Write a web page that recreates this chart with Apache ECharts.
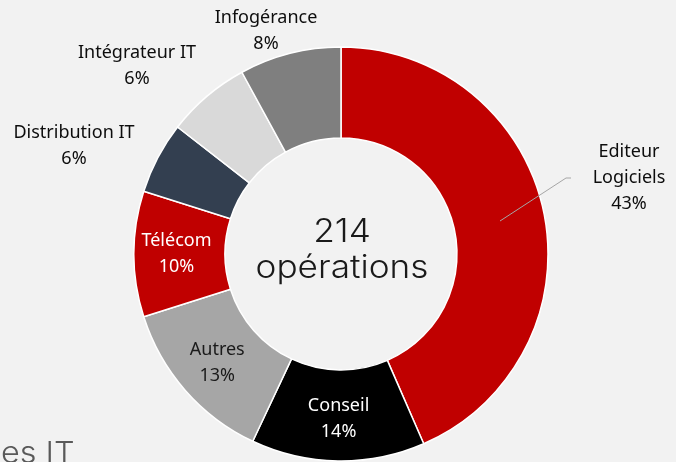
<!DOCTYPE html>
<html>
<head>
<meta charset="utf-8">
<script src="https://cdn.jsdelivr.net/npm/echarts@6/dist/echarts.min.js"></script>
<style>
  html, body { margin: 0; padding: 0; background: #f2f2f2; }
  #donut { width: 676px; height: 462px; }
</style>
</head>
<body>
<div id="donut"></div>
<script>
// secteurs, nombre d'opérations et part affichée
const sectors = ['Editeur\nLogiciels', 'Conseil', 'Autres', 'Télécom', 'Distribution IT', 'Intégrateur IT', 'Infogérance'];
const deals = [93, 29, 28, 21, 12, 14, 17];
const shares = [43, 14, 13, 10, 6, 6, 8];
const sliceColors = ['#c00000', '#000000', '#a6a6a6', '#c00000', '#333f50', '#d9d9d9', '#7f7f7f'];
const insideColors = ['#000', '#ffffff', '#1a1a1a', '#ffffff', '#000', '#000', '#000'];
const total = 214;

// where the outside labels sit (null = inside the ring)
const labelSpots = [[629, 178], null, null, null, [74, 146], [137, 66], [266, 31]];

const chart = echarts.init(document.getElementById('donut'));

const pieData = sectors.map((name, i) => {
  const outside = labelSpots[i] !== null;
  return {
    name: name,
    value: deals[i],
    itemStyle: { color: sliceColors[i] },
    label: {
      position: outside ? 'outside' : 'inside',
      color: outside ? '#0d0d0d' : insideColors[i]
    },
    labelLine: { show: false }
  };
});

const centerText = (txt, y) => ({
  type: 'text',
  x: 342,
  y: y,
  scaleX: 1.1,
  style: {
    text: txt,
    fontFamily: 'Inter',
    fontWeight: 300,
    fontSize: 32,
    fill: '#1a1a1a',
    align: 'center',
    verticalAlign: 'middle'
  }
});

chart.setOption({
  backgroundColor: '#f2f2f2',
  animation: false,
  graphic: [
    centerText(total + '', 232),
    centerText('opérations', 268),
    {
      type: 'text',
      x: 1,
      y: 469,
      scaleX: 1.08,
      style: {
        text: 'es IT',
        fontFamily: 'Inter',
        fontWeight: 300,
        fontSize: 30,
        fill: '#595959',
        align: 'left',
        verticalAlign: 'bottom'
      }
    },
    {
      // leader line of "Editeur Logiciels", drawn over the slice
      type: 'polyline',
      z: 100,
      shape: { points: [[500, 221], [566, 178], [571, 178]] },
      style: { stroke: '#a6a6a6', lineWidth: 1, fill: null }
    }
  ],
  series: [{
    type: 'pie',
    center: [341, 254],
    radius: [116, 207],
    startAngle: 90,
    clockwise: true,
    avoidLabelOverlap: false,
    itemStyle: { borderColor: '#ffffff', borderWidth: 1.5 },
    label: {
      show: true,
      fontFamily: 'Noto Sans',
      fontSize: 18,
      lineHeight: 26,
      align: 'center',
      formatter: (p) => sectors[p.dataIndex] + '\n' + shares[p.dataIndex] + '%'
    },
    labelLayout: (p) => {
      const spot = labelSpots[p.dataIndex];
      if (!spot) return {};
      return { x: spot[0], y: spot[1], align: 'center', verticalAlign: 'middle' };
    },
    data: pieData
  }]
});
</script>
</body>
</html>
